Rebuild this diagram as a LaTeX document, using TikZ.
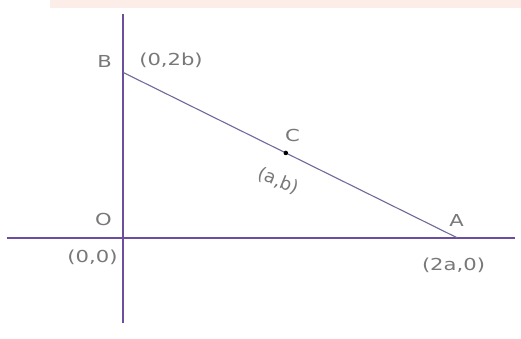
\documentclass[tikz,border=0pt]{standalone}
\usepackage{fontspec}
\setmainfont{DejaVu Sans}
\usetikzlibrary{calc}
\definecolor{axispurple}{HTML}{6B4F9E}
\definecolor{linegray}{HTML}{6E6A9A}
\definecolor{labelgray}{HTML}{787878}
\definecolor{bandpink}{HTML}{FDEDE9}
\begin{document}
\begin{tikzpicture}[x=1pt,y=-1pt,
  axis/.style={draw=axispurple,line width=1.8pt},
  segline/.style={draw=linegray,line width=1.1pt},
  lbl/.style={text=labelgray,font=\fontsize{16.5}{18}\selectfont,inner sep=0pt},
  dotstyle/.style={circle,fill=black,inner sep=0pt,minimum size=4.5pt}]
\useasboundingbox (0,0) rectangle (521,338);
\fill[white] (0,0) rectangle (521,338);
\fill[bandpink] (50,0) rectangle (521,8);
% axes
\coordinate (ytop) at (123.3,14);
\coordinate (ybot) at (123.3,323);
\coordinate (xl) at (7,237.7);
\coordinate (xr) at (515,237.7);
\coordinate (O) at (123.3,237.7);
\coordinate (B) at (123.3,72.5);
\coordinate (A) at (457,237.7);
\draw[axis] (ytop) -- (ybot);
\draw[axis] (xl) -- (xr);
\draw[segline] (B) -- (A);
\node[dotstyle] (C) at ($(B)!0.487!(A)$) {};
% labels
\node[lbl] (lB) at (104.5,61.5) {\scalebox{1.28}[1]{B}};
\node[lbl] (lB2) at (171,60) {\scalebox{1.28}[1]{(0,2b)}};
\node[lbl] (lC) at (292.5,135.5) {\scalebox{1.28}[1]{C}};
\node[lbl,rotate=-22,font=\fontsize{18}{20}\selectfont] (lC2) at (278,181) {(a,b)};
\node[lbl] (lO) at (103.5,219.5) {\scalebox{1.28}[1]{O}};
\node[lbl] (lO2) at (92.5,257.5) {\scalebox{1.28}[1]{(0,0)}};
\node[lbl] (lA) at (456.5,220) {\scalebox{1.28}[1]{A}};
\node[lbl] (lA2) at (453.5,265.5) {\scalebox{1.28}[1]{(2a,0)}};
\end{tikzpicture}
\end{document}
